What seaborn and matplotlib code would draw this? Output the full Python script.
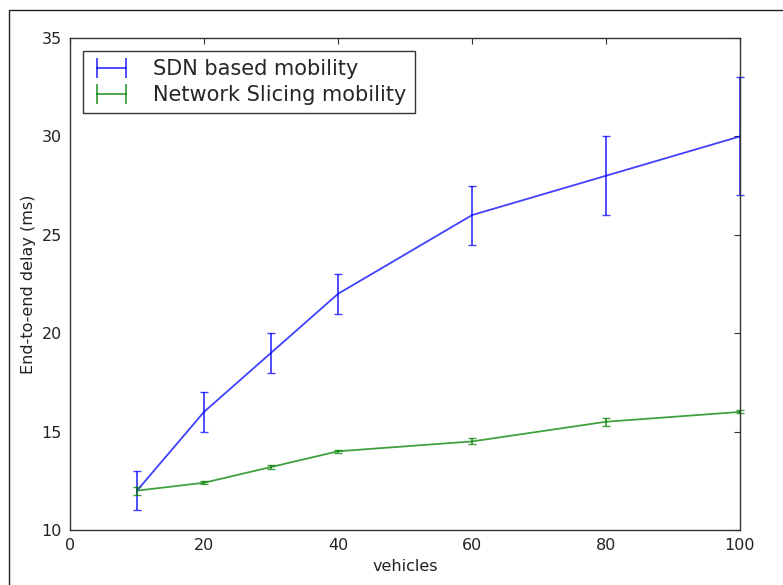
import pandas as pd
import matplotlib
matplotlib.use("Agg")
import matplotlib.pyplot as plt
import seaborn as sns
from matplotlib.patches import Rectangle
from matplotlib.lines import Line2D

# data
vehicles = [10, 20, 30, 40, 60, 80, 100]
sdn_delay = [12, 16, 19, 22, 26, 28, 30]
sdn_err = [1, 1, 1, 1, 1.5, 2, 3]
slicing_delay = [12, 12.4, 13.2, 14, 14.5, 15.5, 16]
slicing_err = [0.2, 0.08, 0.08, 0.08, 0.15, 0.2, 0.08]

df = pd.DataFrame({
    'vehicles': vehicles * 2,
    'delay': sdn_delay + slicing_delay,
    'err': sdn_err + slicing_err,
    'series': ['SDN based mobility'] * len(vehicles) + ['Network Slicing mobility'] * len(vehicles),
})

sns.set_style("white")
plt.rcParams['font.family'] = ['DejaVu Sans']

fig = plt.figure(figsize=(7.83, 5.85), dpi=100)
ax = fig.add_axes([70 / 783, 1 - 530 / 585, 670 / 783, 492 / 585])

colors = {'SDN based mobility': '#0000ff', 'Network Slicing mobility': '#008000'}
sns.lineplot(data=df, x='vehicles', y='delay', hue='series', palette=colors,
             ax=ax, legend=False, linewidth=1.3, alpha=0.75)
for name, sub in df.groupby('series', sort=False):
    ax.errorbar(sub['vehicles'], sub['delay'], yerr=sub['err'], fmt='none',
                ecolor=colors[name], capsize=3, elinewidth=1.3, alpha=0.75, clip_on=False)

ax.set_xlim(0, 100)
ax.set_ylim(10, 35)
ax.set_xticks([0, 20, 40, 60, 80, 100])
ax.set_yticks([10, 15, 20, 25, 30, 35])
ax.set_xlabel('vehicles', fontsize=11.5, color='#222222', labelpad=4)
ax.set_ylabel('End-to-end delay (ms)', fontsize=11.5, color='#222222', labelpad=4)
ax.tick_params(direction='in', length=4, width=0.8, top=True, right=True,
               labelsize=11.5, labelcolor='#222222', color='#333333', pad=6)
for s in ax.spines.values():
    s.set_color('#333333')
    s.set_linewidth(1.0)

# legend handles look like horizontal bars with end caps
handles = [Line2D([], [], color=colors[n], alpha=0.75, linewidth=1.3, marker='|',
                  markersize=15, markeredgewidth=1.3) for n in colors]
leg = ax.legend(handles, list(colors), loc='upper left', fontsize=15, frameon=True,
                fancybox=False, numpoints=2, markerscale=1, borderpad=0.4,
                handlelength=2.0, handletextpad=1.0, labelspacing=0.3, borderaxespad=0.6)
leg.get_frame().set_edgecolor('#333333')
leg.get_frame().set_linewidth(1.0)
leg.get_frame().set_alpha(1)

# outer frame around the screenshot
fig.patches.append(Rectangle((9 / 783, -0.1), 1.2, 1 - 10 / 585 + 0.1, transform=fig.transFigure,
                             fill=False, edgecolor='#222222', linewidth=1.0))

fig.savefig('out.png', dpi=100)
